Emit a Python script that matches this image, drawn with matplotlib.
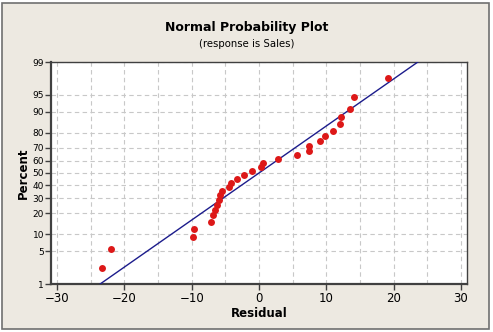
import matplotlib
matplotlib.use("Agg")
import matplotlib.pyplot as plt
from matplotlib.patches import Rectangle
from matplotlib.ticker import MultipleLocator, FixedLocator, NullFormatter
from statistics import NormalDist
import numpy as np

# data: sorted residuals and their plotting percents
residual = [-23.3, -22.0, -9.85, -9.6, -7.1, -6.8, -6.5, -6.3, -6.0, -5.8,
            -5.5, -4.45, -4.2, -3.3, -2.3, -1.1, 0.3, 0.65, 2.8, 5.6,
            7.5, 7.5, 9.0, 9.85, 11.05, 12.0, 12.2, 13.5, 14.15, 19.1]
percent = [2.30, 5.59, 8.88, 12.17, 15.46, 18.75, 22.04, 25.33, 28.62, 31.91,
           35.20, 38.49, 41.78, 45.07, 48.36, 51.64, 54.93, 58.22, 61.51, 64.80,
           68.09, 71.38, 74.67, 77.96, 81.25, 84.54, 87.83, 91.12, 94.41, 97.70]
# fitted normal line end points
fit_x = [-23.6, 23.6]
fit_pct = [1, 99]
y_ticks = [1, 5, 10, 20, 30, 40, 50, 60, 70, 80, 90, 95, 99]
x_ticks = [-30, -20, -10, 0, 10, 20, 30]

nd = NormalDist()
_inv = np.vectorize(lambda v: nd.inv_cdf(v / 100.0), otypes=[float])
_cdf = np.vectorize(lambda v: nd.cdf(v) * 100.0, otypes=[float])


def to_z(p):
    p = np.clip(np.asarray(p, dtype=float), 1e-6, 100 - 1e-6)
    return _inv(p)


def to_p(z):
    return _cdf(np.asarray(z, dtype=float))


bg = "#EDE9E1"
W, H = 493, 332
fig = plt.figure(figsize=(W / 100, H / 100), dpi=100)
fig.patch.set_facecolor("white")
# outer panel with frame
fig.patches.append(Rectangle((2 / W, 3 / H), 487 / W, 326 / H, transform=fig.transFigure,
                             facecolor=bg, edgecolor="#707070", linewidth=1.2, zorder=-5))

ax = fig.add_axes([51 / W, 1 - 284 / H, 416 / W, 222 / H])
ax.set_facecolor("white")
ax.set_yscale("function", functions=(to_z, to_p))
ax.set_xlim(-30.9, 30.9)
ax.set_ylim(1, 99)

ax.plot(fit_x, fit_pct, color="#1C1C8C", linewidth=1.0, zorder=3)
ax.plot(residual, percent, "o", color="#DD1818", markersize=5, markeredgewidth=0, zorder=4)

ax.xaxis.set_major_locator(FixedLocator(x_ticks))
ax.xaxis.set_minor_locator(MultipleLocator(5))
ax.yaxis.set_major_locator(FixedLocator(y_ticks))
ax.yaxis.set_minor_locator(FixedLocator([]))
ax.yaxis.set_minor_formatter(NullFormatter())
ax.set_yticklabels([str(t) for t in y_ticks])

grid_kw = dict(color="#C8C8C8", linestyle=(0, (4, 3)), linewidth=0.8)
ax.grid(True, which="major", **grid_kw)
ax.xaxis.grid(True, which="minor", **grid_kw)
ax.set_axisbelow(True)

for side in ["left", "bottom"]:
    ax.spines[side].set_linewidth(1.6)
    ax.spines[side].set_color("#404040")
for side in ["top", "right"]:
    ax.spines[side].set_linewidth(1.0)
    ax.spines[side].set_color("#404040")

ax.tick_params(axis="x", which="major", direction="out", length=4, width=1, color="#404040",
               labelsize=8.5, pad=2)
ax.tick_params(axis="x", which="minor", length=0)
ax.tick_params(axis="y", which="major", direction="out", length=4, width=1, color="#404040",
               labelsize=6.5, pad=1)

ax.set_xlabel("Residual", fontsize=8.5, fontweight="bold", labelpad=1)
ax.set_ylabel("Percent", fontsize=8.5, fontweight="bold", labelpad=2)

fig.text(0.5, 1 - 28 / H, "Normal Probability Plot", ha="center", va="center",
         fontsize=9, fontweight="bold")
fig.text(0.5, 1 - 44 / H, "(response is Sales)", ha="center", va="center", fontsize=7.3)

fig.savefig("out.png", dpi=100, facecolor=fig.get_facecolor())
